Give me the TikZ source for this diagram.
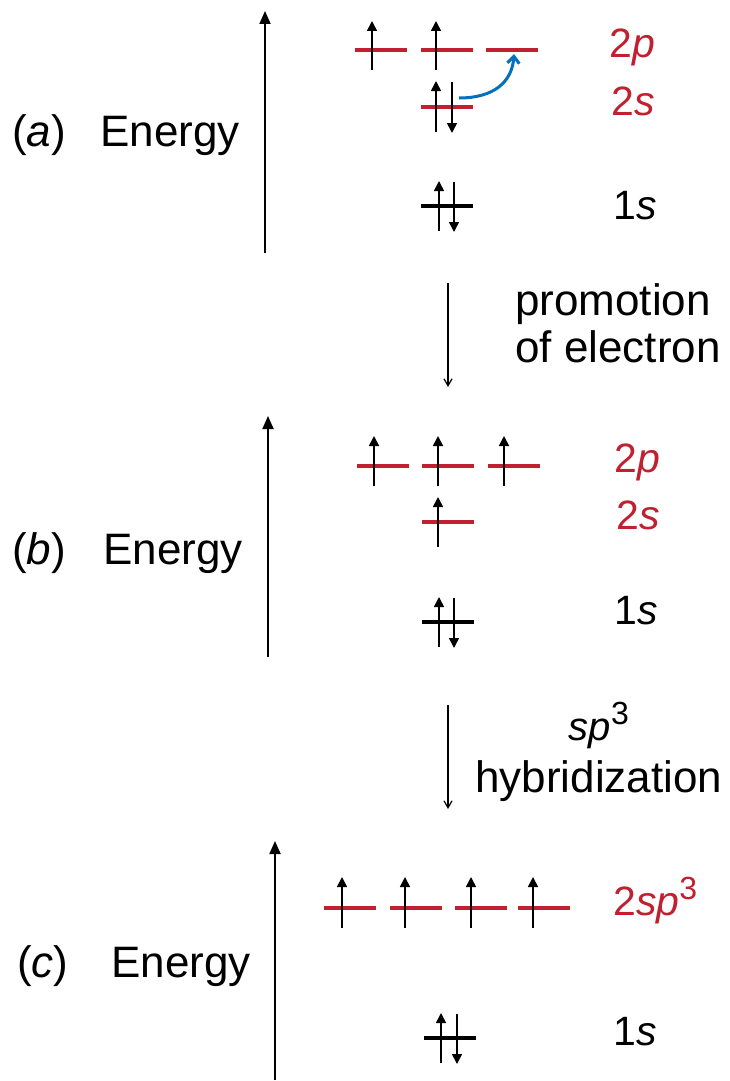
\documentclass[tikz,border=0pt]{standalone}
\usepackage{fontspec}
\setmainfont{Liberation Sans}
\usetikzlibrary{arrows.meta}
\definecolor{orbred}{RGB}{192,32,47}
\definecolor{promblue}{RGB}{0,112,192}
\newcommand\orbR[2]{\draw[redorb] (#1,#2) -- ++(52,0);}
\newcommand\orbK[2]{\draw[blackorb] (#1,#2) -- ++(52,0);}
\newcommand\eUp[3]{\draw[electron] (#1,#2) -- (#1,#3);}
\begin{document}
\begin{tikzpicture}[x=1pt,y=-1pt,
  redorb/.style={draw=orbred,line width=4pt},
  blackorb/.style={draw=black,line width=4pt},
  electron/.style={line width=1.6pt,-{Triangle[length=10pt,width=10pt]}},
  axis/.style={line width=1.8pt,-{Triangle[length=13pt,width=11pt]}},
  process/.style={line width=1.2pt,-{Straight Barb[length=7pt,width=8pt]}},
  big/.style={font=\fontsize{44}{50}\selectfont,inner sep=0pt,anchor=base west},
  lab/.style={font=\fontsize{41}{46}\selectfont,inner sep=0pt,anchor=base west},
]
\useasboundingbox (0,0) rectangle (730,1081);

% ---------- panel (a)
\coordinate (axA0) at (265,253); \coordinate (axA1) at (265,11);
\draw[axis] (axA0) -- (axA1);
\node[big] (pa) at (12,146) {(\textit{a})};
\node[big] (ea) at (100,146) {Energy};
\orbR{355}{50} \orbR{421}{50} \orbR{486}{50}
\eUp{372}{70}{21} \eUp{436}{70}{21}
\orbR{421}{107}
\eUp{436}{132}{81} \eUp{452}{82}{133}
\orbK{421}{206}
\eUp{439}{231}{181} \eUp{454}{182}{232}
\coordinate (blA) at (459,98); \coordinate (blB) at (514,54);
\draw[promblue,line width=3pt,-{Straight Barb[length=7pt,width=12pt]}]
  (blA) .. controls (494,98) and (512,82) .. (blB);
\node[lab,text=orbred] (a2p) at (609,57) {2\textit{p}};
\node[lab,text=orbred] (a2s) at (611,115) {2\textit{s}};
\node[lab] (a1s) at (613,219) {1\textit{s}};

% ---------- process 1
\coordinate (p1a) at (448,283); \coordinate (p1b) at (448,387);
\draw[process] (p1a) -- (p1b);
\node[big] (prom) at (515,315) {promotion};
\node[big] (ofel) at (515,362) {of electron};

% ---------- panel (b)
\coordinate (axB0) at (268,657); \coordinate (axB1) at (268,416);
\draw[axis] (axB0) -- (axB1);
\node[big] (pb) at (12,564) {(\textit{b})};
\node[big] (eb) at (103,564) {Energy};
\orbR{357}{466} \orbR{422}{466} \orbR{488}{466}
\eUp{374}{486}{436} \eUp{438}{486}{436} \eUp{504}{486}{436}
\orbR{422}{522}
\eUp{438}{547}{497}
\orbK{422}{622}
\eUp{439}{647}{597} \eUp{454}{598}{648}
\node[lab,text=orbred] (b2p) at (614,472) {2\textit{p}};
\node[lab,text=orbred] (b2s) at (616,529) {2\textit{s}};
\node[lab] (b1s) at (614,624) {1\textit{s}};

% ---------- process 2
\coordinate (p2a) at (448,705); \coordinate (p2b) at (448,809);
\draw[process] (p2a) -- (p2b);
\node[font=\fontsize{40}{46}\selectfont,inner sep=0pt,anchor=base] (sp3) at (599,740) {\textit{sp}\raisebox{16pt}{\fontsize{32}{36}\selectfont 3}};
\node[big] (hyb) at (475,792) {hybridization};

% ---------- panel (c)
\coordinate (axC0) at (275,1080); \coordinate (axC1) at (275,841);
\draw[axis] (axC0) -- (axC1);
\node[big] (pc) at (17,977) {(\textit{c})};
\node[big] (ec) at (111,977) {Energy};
\orbR{324}{908} \orbR{390}{908} \orbR{455}{908} \orbR{518}{908}
\eUp{342}{928}{877} \eUp{405}{928}{877} \eUp{471}{928}{877} \eUp{533}{928}{877}
\orbK{424}{1038}
\eUp{441}{1063}{1013} \eUp{457}{1014}{1064}
\node[lab,text=orbred] (c2sp) at (613,915) {2\textit{sp}\raisebox{16pt}{\fontsize{32}{36}\selectfont 3}};
\node[lab] (c1s) at (613,1045) {1\textit{s}};
\end{tikzpicture}
\end{document}
